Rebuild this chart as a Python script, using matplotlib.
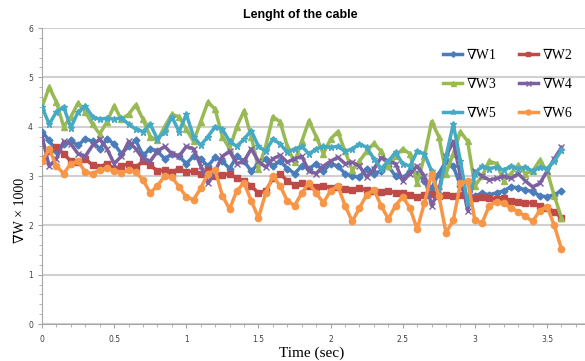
import numpy as np
import matplotlib
matplotlib.use("Agg")
import matplotlib.pyplot as plt
from matplotlib.ticker import MultipleLocator

# time axis (sec), one sample every 0.05 s
time = np.round(np.arange(0, 3.601, 0.05), 2)

w1 = [3.90, 3.72, 3.50, 3.65, 3.72, 3.62, 3.76, 3.70, 3.55, 3.75,
      3.65, 3.45, 3.60, 3.72, 3.42, 3.55, 3.50, 3.35, 3.45, 3.40,
      3.25, 3.40, 3.35, 3.20, 3.38, 3.30, 3.15, 3.40, 3.30, 3.10,
      3.25, 3.35, 3.20, 3.30, 3.15, 3.05, 3.20, 3.15, 3.25, 3.10,
      3.25, 3.20, 3.05, 3.00, 2.98, 3.15, 3.05, 3.10, 3.20, 3.00,
      2.95, 3.10, 3.05, 2.90, 2.75, 3.05, 3.30, 3.20, 2.80, 2.55,
      2.60, 2.65, 2.62, 2.66, 2.70, 2.78, 2.76, 2.72, 2.68, 2.60,
      2.58, 2.62, 2.70]
w2 = [3.33, 3.50, 3.58, 3.45, 3.30, 3.28, 3.35, 3.22, 3.18, 3.25,
      3.15, 3.20, 3.25, 3.18, 3.30, 3.22, 3.10, 3.12, 3.08, 3.15,
      3.08, 3.10, 3.05, 3.12, 3.00, 3.02, 3.05, 2.95, 2.90, 2.80,
      2.65, 2.70, 2.95, 3.05, 2.90, 2.82, 2.85, 2.80, 2.78, 2.80,
      2.76, 2.78, 2.74, 2.72, 2.75, 2.72, 2.70, 2.68, 2.70, 2.66,
      2.65, 2.62, 2.58, 2.62, 2.64, 2.60, 2.62, 2.60, 2.62, 2.58,
      2.55, 2.57, 2.55, 2.53, 2.55, 2.50, 2.48, 2.46, 2.45, 2.40,
      2.35, 2.28, 2.15]
w3 = [4.40, 4.80, 4.50, 4.00, 4.20, 4.48, 4.30, 4.05, 3.85, 4.10,
      4.42, 4.15, 4.25, 4.44, 4.15, 3.80, 3.72, 4.00, 4.25, 4.20,
      3.95, 3.70, 4.10, 4.50, 4.35, 3.80, 3.55, 4.00, 4.32, 3.80,
      3.15, 3.60, 4.20, 4.10, 3.60, 3.28, 3.70, 4.12, 3.80, 3.45,
      3.75, 3.90, 3.50, 3.12, 3.30, 3.50, 3.66, 3.50, 3.20, 3.40,
      3.55, 3.45, 2.85, 3.40, 4.10, 3.80, 3.05, 3.45, 3.90, 3.70,
      2.80, 3.00, 3.30, 3.25, 2.90, 3.05, 3.22, 3.05, 3.10, 3.32,
      3.10, 2.60, 2.15]
w4 = [3.80, 3.20, 3.35, 3.70, 3.65, 3.45, 3.40, 3.62, 3.75, 3.55,
      3.25, 3.40, 3.70, 3.55, 3.35, 3.30, 3.50, 3.60, 3.45, 3.40,
      3.60, 3.55, 3.20, 2.85, 3.10, 3.40, 3.50, 3.25, 3.30, 3.55,
      3.30, 3.18, 3.35, 3.42, 3.28, 3.35, 3.40, 3.10, 3.05, 3.20,
      3.30, 3.38, 3.25, 3.28, 3.20, 2.98, 3.15, 3.37, 3.30, 3.25,
      2.90, 3.05, 3.20, 3.00, 2.40, 2.70, 3.40, 3.70, 3.00, 2.30,
      3.10, 3.00, 2.92, 2.95, 3.00, 2.95, 3.05, 2.90, 2.78, 2.85,
      3.10, 3.35, 3.58]
w5 = [4.40, 4.05, 4.30, 4.40, 3.98, 4.30, 4.42, 4.20, 4.15, 4.17,
      4.15, 4.18, 4.05, 3.95, 3.90, 4.05, 3.75, 3.90, 4.20, 3.90,
      4.25, 3.80, 3.62, 3.80, 4.00, 3.95, 3.70, 3.60, 3.75, 3.92,
      3.60, 3.50, 3.75, 3.65, 3.48, 3.55, 3.60, 3.45, 3.55, 3.60,
      3.58, 3.60, 3.50, 3.55, 3.65, 3.58, 3.35, 3.15, 3.30, 3.48,
      3.25, 3.20, 3.50, 3.45, 3.10, 2.60, 3.40, 4.05, 3.30, 2.45,
      3.05, 3.20, 3.15, 3.18, 3.12, 3.20, 3.15, 3.18, 3.10, 3.18,
      3.15, 3.30, 3.52]
w6 = [3.30, 3.55, 3.20, 3.05, 3.25, 3.30, 3.08, 3.05, 3.12, 3.16,
      3.10, 3.06, 3.12, 3.08, 2.92, 2.66, 2.80, 3.00, 2.98, 2.78,
      2.58, 2.52, 2.75, 3.05, 3.12, 2.60, 2.33, 2.70, 2.86, 2.50,
      2.15, 2.65, 3.00, 2.80, 2.50, 2.40, 2.65, 2.86, 2.65, 2.46,
      2.70, 2.80, 2.40, 2.08, 2.35, 2.62, 2.72, 2.40, 2.13, 2.40,
      2.58, 2.35, 1.92, 2.45, 3.05, 2.60, 1.85, 2.10, 2.85, 2.90,
      2.10, 2.05, 2.40, 2.48, 2.45, 2.35, 2.28, 2.18, 2.08, 2.30,
      2.38, 2.00, 1.52]

labels = ["∇W1", "∇W2", "∇W3", "∇W4", "∇W5", "∇W6"]
series = [w1, w2, w3, w4, w5, w6]
colors = ["#4A7EBB", "#BE4B48", "#98B954", "#7D60A0", "#46AAC5", "#F79646"]
markers = ["D", "s", "^", "x", "*", "o"]
msizes = [3.5, 4, 4.5, 4.5, 5, 4.5]

serif = ["Liberation Serif", "DejaVu Serif"]

fig = plt.figure(figsize=(5.85, 3.61), dpi=100)
ax = fig.add_axes([42 / 585, 1 - 324 / 361, 543 / 585, 296 / 361])

handles = {}
for lab, y, c, m, ms in zip(labels, series, colors, markers, msizes):
    (h,) = ax.plot(time, y, color=c, lw=2.5, marker=m, ms=ms,
                   mec=c, mfc=c, mew=1, label=lab, zorder=3)
    handles[lab] = h

ax.set_xlim(0, 543 / 144.3)
ax.set_ylim(0, 6)
ax.xaxis.set_minor_locator(MultipleLocator(0.1))
ax.yaxis.set_major_locator(MultipleLocator(1))
ax.yaxis.set_minor_locator(MultipleLocator(0.2))
ax.set_xticks([0, 0.5, 1, 1.5, 2, 2.5, 3, 3.5])
ax.set_xticklabels(["0", "0.5", "1", "1.5", "2", "2.5", "3", "3.5"])
ax.grid(axis="y", color="#D0D0D0", lw=1.5, zorder=0)
ax.set_axisbelow(True)
for s in ["top", "right"]:
    ax.spines[s].set_visible(False)
for s in ["left", "bottom"]:
    ax.spines[s].set_color("#A6A6A6")
ax.tick_params(which="both", direction="out", color="#A6A6A6",
               labelsize=5.5, labelcolor="#404040")
ax.tick_params(which="major", length=3)
ax.tick_params(which="minor", length=2)
ax.tick_params(axis="x", pad=5)

fig.text(300 / 585, 1 - 15 / 361, "Lenght of the cable", ha="center", va="center",
         fontsize=9, fontweight="bold", family=["Liberation Sans", "DejaVu Sans"])
fig.text(312 / 585, 1 - 353 / 361, "Time (sec)", ha="center", va="center",
         fontsize=11, family=serif)
fig.text(20 / 585, 1 - 210 / 361, "∇W × 1000", ha="center", va="center",
         rotation=90, fontsize=10, family=serif)

order = ["∇W1", "∇W3", "∇W5", "∇W2", "∇W4", "∇W6"]
leg = fig.legend([handles[k] for k in order], order, ncol=2,
                 loc="upper left", bbox_to_anchor=(436 / 585, 1 - 42 / 361),
                 frameon=False, prop={"family": serif, "size": 10},
                 handlelength=1.4, handletextpad=0.3, columnspacing=1.6,
                 labelspacing=1.15, markerscale=0.8, borderpad=0)
leg.set_zorder(5)

fig.savefig("out.png", dpi=100)
